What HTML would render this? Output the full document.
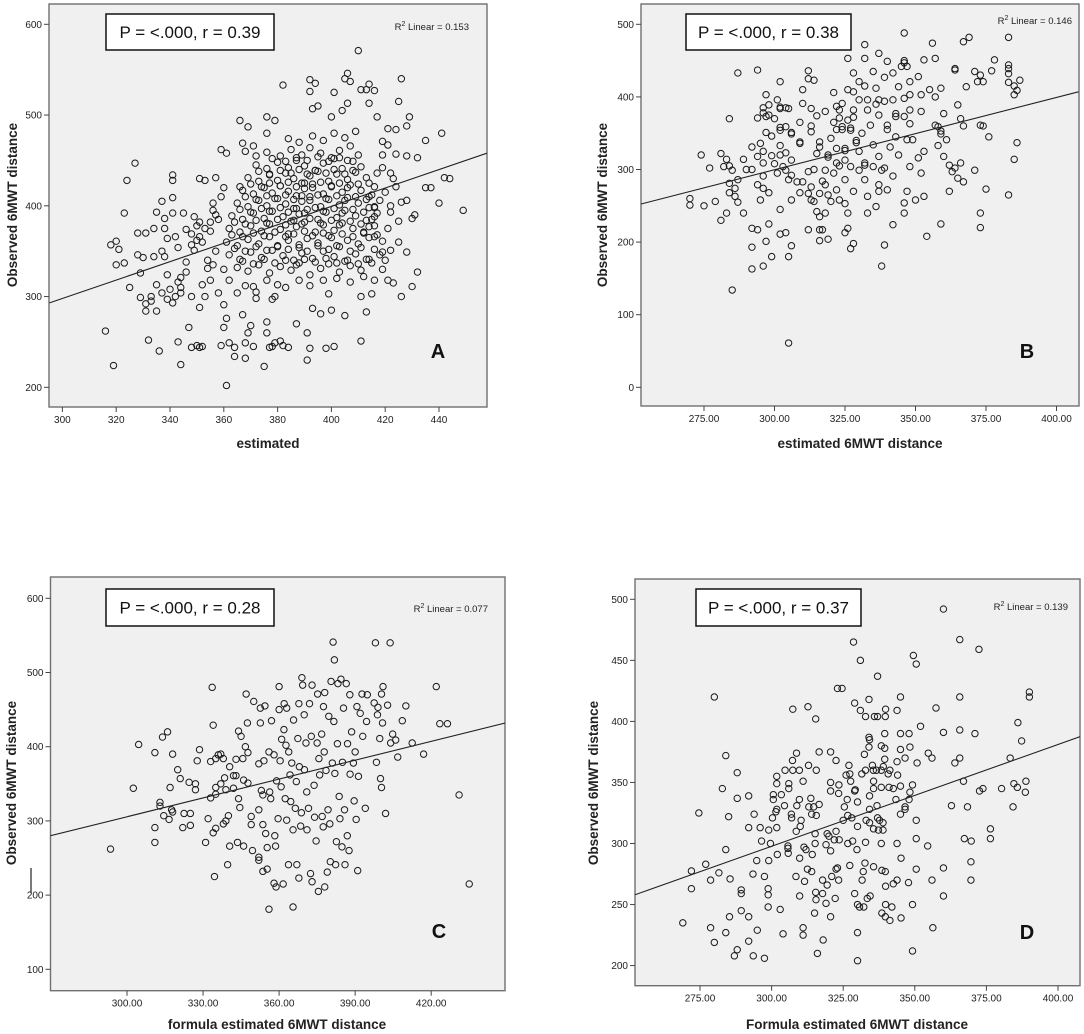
<!DOCTYPE html>
<html><head><meta charset="utf-8"><title>6MWT scatter plots</title>
<style>
html,body{margin:0;padding:0;background:#fff;}
svg{display:block;font-family:"Liberation Sans",Arial,sans-serif;}
</style></head>
<body>
<svg id="chart" width="1084" height="1034" viewBox="0 0 1084 1034" xmlns="http://www.w3.org/2000/svg"></svg>
<script>
// ---------- DATA ----------
const pointsA = [[316,262],[319,224],[327,447],[324,428],[323,392],[318,357],[320,361],[321,352],[320,335],[323,337],[325,310],[328,346],[330,343],[328,370],[331,370],[329,326],[329,299],[331,292],[331,284],[332,252],[333,295],[333,300],[335,284],[336,240],[335,313],[334,344],[334,375],[335,393],[337,405],[338,386],[338,375],[339,364],[337,350],[338,344],[337,304],[339,324],[339,297],[341,293],[342,300],[340,308],[341,434],[341,428],[341,409],[341,392],[342,366],[343,354],[343,250],[343,316],[344,321],[344,310],[344,225],[344,304],[346,338],[345,392],[346,374],[348,369],[346,327],[348,300],[347,266],[348,244],[350,246],[351,244],[352,245],[348,357],[349,351],[350,362],[351,366],[349,388],[350,378],[351,382],[353,375],[351,430],[353,428],[352,313],[353,300],[351,288],[354,331],[355,318],[356,335],[355,382],[356,403],[357,390],[357,431],[359,462],[360,420],[361,458],[358,304],[360,291],[360,266],[359,246],[361,276],[362,249],[361,202],[364,244],[364,234],[365,304],[366,421],[366,494],[367,469],[368,460],[367,280],[368,249],[369,260],[368,232],[370,268],[369,487],[371,466],[372,455],[371,311],[372,298],[371,245],[375,223],[376,260],[376,272],[377,244],[378,245],[379,249],[376,498],[376,480],[379,494],[378,297],[379,300],[380,313],[382,533],[392,539],[392,526],[394,535],[393,507],[395,510],[401,525],[406,546],[405,540],[407,537],[410,571],[411,528],[413,528],[414,534],[416,527],[414,513],[406,513],[404,505],[400,498],[417,498],[426,540],[425,515],[429,498],[428,488],[424,484],[421,485],[441,480],[435,472],[432,453],[428,455],[424,457],[442,431],[444,430],[435,420],[437,420],[440,403],[449,395],[431,390],[430,386],[428,406],[426,404],[425,383],[422,393],[425,360],[428,349],[422,351],[419,349],[419,330],[421,318],[423,315],[432,327],[430,311],[426,300],[415,303],[413,283],[411,300],[411,251],[405,279],[401,245],[398,243],[396,281],[400,285],[399,303],[393,287],[392,243],[391,230],[391,260],[387,270],[384,244],[382,246],[381,251],[419,456],[419,471],[421,467],[417,436],[422,436],[424,421],[416,421],[414,425],[414,410],[416,399],[416,388],[414,377],[416,366],
[365,332],[369,328],[373,335],[377,326],[381,333],[385,329],[388,337],[392,324],[396,331],[399,336],[403,327],[407,334],[411,329],[415,337],[362,346],[366,341],[370,349],[374,343],[378,351],[382,345],[386,340],[389,348],[393,342],[397,350],[401,344],[405,339],[409,347],[413,341],[418,346],[361,360],[365,356],[369,363],[373,358],[377,366],[380,355],[384,362],[388,357],[391,364],[395,359],[399,367],[402,356],[406,362],[410,358],[414,365],[419,361],[362,375],[366,371],[370,378],[374,372],[377,380],[381,374],[384,369],[387,377],[390,382],[394,371],[397,379],[401,373],[404,381],[408,375],[412,370],[416,378],[363,389],[367,385],[371,392],[375,386],[378,394],[382,388],[385,383],[388,391],[391,396],[395,385],[398,393],[402,387],[405,395],[409,389],[413,384],[417,392],[365,403],[369,399],[373,406],[376,400],[379,408],[383,402],[386,397],[389,405],[392,410],[396,399],[399,407],[403,401],[406,409],[410,403],[414,398],[418,406],[367,417],[371,413],[375,420],[378,414],[381,422],[384,416],[387,411],[390,419],[393,424],[397,413],[400,421],[404,415],[407,423],[411,417],[415,412],[369,431],[373,427],[377,434],[380,428],[383,436],[386,430],[389,425],[392,433],[395,438],[399,427],[402,435],[406,429],[409,437],[413,431],[372,445],[376,441],[380,448],[384,442],[387,450],[390,444],[394,439],[397,447],[401,452],[404,441],[408,449],[411,443],[376,459],[381,455],[385,462],[389,456],[392,464],[396,458],[400,453],[403,461],[407,466],[410,456],[384,474],[388,470],[393,477],[397,472],[401,480],[405,475],[409,482],[352,360],[355,372],[357,350],[358,385],[356,395],[359,410],[354,340],[360,330],[362,318],[368,312],[372,305],[376,318],[383,310],[388,318],[392,312],[397,318],[402,320],[407,316],[412,322],[416,318],[420,340],[421,375],[422,400],[420,415],[423,430],[419,442],
[367,339],[371,336],[375,341],[379,337],[383,340],[387,335],[390,341],[394,338],[398,342],[402,337],[406,340],[410,336],[414,341],
[364,353],[368,350],[372,355],[376,351],[380,356],[384,352],[388,354],[391,350],[395,356],[399,352],[403,355],[407,350],[411,354],[416,352],
[363,368],[367,366],[371,370],[375,367],[379,371],[383,366],[386,369],[390,372],[393,367],[397,370],[400,365],[404,369],[408,366],[412,371],[417,368],
[364,382],[368,380],[372,384],[376,381],[380,385],[383,379],[386,384],[389,380],[392,386],[396,381],[400,384],[403,379],[407,383],[411,380],[415,385],
[366,396],[370,393],[374,397],[377,394],[381,398],[384,393],[387,397],[390,392],[394,398],[397,394],[401,397],[404,392],[408,396],[412,393],[416,398],
[368,410],[372,407],[376,411],[380,408],[383,412],[386,407],[389,411],[392,406],[395,412],[398,408],[402,411],[405,406],[409,410],[413,407],
[370,424],[374,421],[377,425],[381,422],[384,426],[387,421],[390,425],[393,420],[396,426],[400,422],[403,425],[406,420],[410,424],
[373,438],[377,435],[381,439],[385,436],[388,440],[391,435],[394,439],[398,436],[401,440],[405,435],[408,439],
[378,452],[383,449],[387,453],[391,450],[395,454],[399,449],[403,453],[406,450]];
const trendA = [[295.2,293],[457.8,458]];

const pointsB = [[270,260],[270,251],[274,320],[277,302],[275,250],[279,256],[281,322],[281,230],[282,304],[283,314],[283,240],[284,370],[284,305],[285,299],[284,281],[284,268],[286,274],[286,263],[285,134],[287,433],[287,286],[287,255],[289,314],[289,240],[290,300],[292,331],[292,300],[292,219],[292,193],[292,163],[294,437],[294,371],[294,318],[294,279],[294,217],[295,258],[295,336],[296,378],[296,385],[296,325],[296,309],[296,291],[296,274],[296,167],[297,403],[297,373],[297,201],[297,351],[298,389],[298,375],[298,268],[298,225],[299,319],[299,180],[299,346],[300,308],[300,370],[301,295],[301,396],[302,421],[302,386],[302,384],[302,358],[302,354],[302,333],[302,320],[302,245],[302,211],[303,304],[304,299],[304,359],[304,213],[304,323],[304,385],[305,384],[305,286],[305,61],[305,180],[306,313],[306,258],[306,195],[306,351],[306,349],[306,292],[308,283],[309,365],[309,338],[309,336],[309,268],[310,410],[310,391],[310,283],[312,436],[312,425],[312,297],[312,217],[312,267],[313,352],[313,384],[313,360],[313,258],[313,276],[314,256],[314,300],[314,423],[315,322],[315,374],[315,242],[316,202],[316,217],[317,217],[316,338],[316,235],[316,267],[316,331],[317,284],[318,299],[318,380],[318,279],[318,240],[319,265],[319,204],[319,320],[319,317],[320,343],[320,256],[321,365],[321,295],[321,406],[322,387],[323,382],[322,355],[322,329],[322,309],[323,305],[322,272],[323,258],[323,371],[324,391],[324,359],[324,355],[325,329],[325,326],[325,286],[325,253],[325,313],[325,213],[326,453],[326,240],[326,219],[326,368],[326,410],[327,354],[327,357],[327,304],[327,191],[328,433],[328,407],[328,270],[328,372],[328,198],[328,382],[329,340],[329,337],[330,299],[330,396],[330,421],[330,325],[331,350],[332,453],[332,286],[332,309],[332,306],[332,472],[332,415],[333,382],[333,240],[333,263],[333,396],[334,361],[335,334],[335,435],[335,304],[336,412],[336,390],[337,396],[336,249],[337,460],[337,279],[337,270],[337,375],[337,318],[338,299],[339,302],[338,167],[339,394],[339,427],[339,196],[340,449],[340,355],[340,361],[340,272],[341,331],[342,291],[342,396],[342,224],[342,433],[343,377],[343,373],[343,345],[344,414],[344,320],[345,442],[346,450],[346,447],[346,398],[346,488],[346,254],[346,240],[346,373],[347,341],[347,442],[347,270],[348,421],[348,382],[348,403],[348,363],[348,304],[349,341],[350,258],[351,428],[351,316],[352,380],[352,295],[352,403],[353,451],[353,325],[353,263],[354,208],[355,410],[356,474],[357,361],[357,453],[357,400],[358,333],[358,359],[359,412],[359,353],[359,349],[359,225],[360,377],[360,318],[361,341],[362,306],[362,270],[363,297],[364,302],[364,439],[364,437],[365,389],[365,288],[366,370],[366,309],[367,476],[367,360],[367,283],[368,414],[369,482],[371,299],[371,435],[372,421],[373,430],[373,361],[374,360],[374,421],[373,240],[373,220],[375,273],[376,345],[377,436],[378,451],[383,482],[383,444],[383,439],[383,432],[383,420],[383,265],[385,314],[385,415],[385,403],[386,409],[386,337],[387,423]];
const trendB = [[252.7,252.5],[407.8,407]];

const pointsC = [[293.5,262],[302.5,344],[304.6,403],[311,271],[311,291],[311,392],[313,325],[313,320],[314,413],[316,420],[314.5,307],[316.6,302],[317,345],[317.6,315],[318,312],[318,390],[320,369],[321,357],[322,291],[322.5,310],[324.5,352],[325,294],[325,310],[327,350],[327,342],[327.7,381],[328.6,396],[331,271],[332,303],[333,331],[333,380],[333.6,480],[334,429],[334,284],[334.5,225],[335,336],[335,345],[335,384],[335,290],[336,389],[337,350],[337,390],[338,296],[338,384],[338.5,358],[339,300],[339,342],[339.7,241],[340,307],[340.5,373],[340.5,266],[342,344],[342,361],[343,361],[343,383],[343.6,271],[344,330],[344.5,318],[344,421],[345,414],[345.7,384],[346,266],[346,355],[346.7,400],[347,471],[347.5,432],[347.7,392],[347.7,351],[349,306],[349,295],[349.5,260],[350,461],[352,251],[352,247],[352,315],[352,377],[352.6,452],[352.6,432],[353,341],[353.6,335],[353.6,295],[353.6,232],[354,381],[354.4,455],[354.7,283],[355.3,264],[355.3,235],[356,181],[356,393],[356.3,339],[356.7,330],[357,435],[358,216],[358,389],[358.3,280],[358.6,266],[358.8,211],[359,354],[359.6,303],[360,450],[360,481],[360.4,381],[360.8,346],[361,410],[361.6,215],[361.9,423],[362,458],[362.4,330],[362.7,402],[363,301],[363,452],[363.7,241],[363.8,393],[364.3,362],[364.6,326],[365,378],[365.5,288],[365.5,184],[365.7,436],[366.4,317],[366.8,353],[367,241],[367.4,411],[367.8,223],[367.8,458],[368,373],[368.5,293],[368.8,311],[369,493],[369.3,483],[369.9,443],[370,369],[370.6,405],[370.9,339],[371,288],[371.6,317],[372,458],[372.4,229],[372.7,414],[373,218],[373,483],[373.8,348],[374,305],[374.6,273],[375,405],[375.2,471],[375.5,205],[375.7,384],[376,362],[376.8,417],[377,306],[377.4,292],[377.5,454],[377.8,393],[378,211],[378,473],[378.5,368],[379,231],[379.3,315],[379.6,441],[380,296],[380.2,245],[380.5,488],[381,378],[381.3,541],[381.6,434],[381.8,517],[382,364],[382.3,241],[382.6,272],[383,404],[383.2,485],[383.7,333],[384,303],[384.4,491],[384.8,265],[385,379],[385.4,452],[385.8,315],[386,241],[386.5,485],[386.9,280],[387,404],[387.6,260],[387.9,470],[388,363],[388.6,420],[389.3,378],[389.6,327],[390,393],[390.4,302],[390.7,454],[391,233],[391.3,360],[392,445],[392.7,471],[393,414],[394,317],[394.5,434],[394.8,470],[397.5,459],[398,540],[398.4,379],[398.8,443],[399,453],[399.7,411],[400,357],[400.4,345],[400.4,471],[401,481],[400.8,432],[402,310],[402.8,456],[403.8,540],[404,405],[404.8,417],[406,409],[406.8,386],[408.6,435],[410,455],[412.5,405],[417,390],[422,481],[423.4,431],[426.4,431],[431,335],[435,215]];
const trendC = [[269.8,280],[449.2,432]];

const pointsD = [[269,235],[272,277.5],[272,263],[274.6,325],[277,283],[278.7,270],[280,420],[278.7,231],[280,219],[281.6,276],[282.8,345],[284,372],[284,295],[284,227],[285,322],[285.5,271],[285.3,240],[287,208],[288,213],[288,337],[288,358],[289.4,262],[289.4,259],[289.4,245],[292,339],[292,313],[292,240],[292,220],[293.5,275],[293.6,208],[293.9,324],[294.8,286],[295,229],[296,313],[296.5,302],[297.5,206],[297.5,273],[298.8,263],[298.8,258],[298.8,248],[299,286],[299,311],[299.6,300],[300.3,321],[300.6,336],[300.6,340],[301.5,326],[301.8,328],[301.8,355],[301.8,349],[301.8,313],[302,291],[303,246],[303.4,340],[304,226],[304.5,331],[304.7,360],[305.7,298],[305.7,296],[305.8,292],[306,345],[306,349],[306.9,324],[307,321],[307.3,368],[307.4,410],[307.4,360],[308.5,273],[308.6,310],[308.7,374],[308.8,331],[309.7,360],[309.7,336],[309.8,288],[309.8,257],[310,314],[310.3,319],[311,351],[311.3,297],[311.5,269],[311,231],[311,225],[312,295],[312.5,279],[312.7,412],[312.9,364],[313,330],[313.7,337],[314,277],[314,324],[314.2,291],[314.7,330],[315,243],[315.2,300],[315.2,308],[315.4,260],[315.5,254],[315.6,323],[315.6,360],[315.4,402],[316,210],[316.6,332],[316.6,375],[317.8,270],[317.8,259],[318,221],[319,299],[319,251],[319.4,266],[319.4,308],[320,306],[320.6,375],[320.6,294],[320.6,350],[320.6,343],[320.6,240],[321,273],[321.9,303],[322.2,255],[322.5,279],[322.5,310],[323,427],[322.5,368],[323,280],[323.4,270],[323.4,341],[323.5,348],[323.6,303],[324.6,427],[325,319],[325.4,330],[326,356],[326.4,336],[326.6,300],[326.6,323],[327,364],[327.3,357],[327.3,282],[327.6,351],[328,321],[328.3,302],[328.6,465],[329,415],[329,343],[329.2,344],[329,259],[329.8,295],[330,227],[330,204],[330,334],[330,314],[330,250],[330.7,248],[331,450],[331,409],[331.5,357],[331.6,270],[332,277],[332.2,248],[332.4,373],[332.6,284],[332.8,301],[332.8,404],[332.8,360],[333,319],[333.4,255],[334,418],[334,387],[334.2,385],[334,379],[334.2,339],[334.2,317],[334.2,328],[334.4,257],[335.2,364],[335.5,360],[335.6,351],[335.6,345],[335.6,312],[335.6,281],[335.9,404],[336.6,360],[336.8,331],[337,321],[337,437],[337,404],[337.3,311],[337.7,319],[338.3,360],[338.3,346],[338.3,380],[338.3,300],[338.5,278],[338.5,243],[338.9,317],[338.9,311],[339,363],[339.5,378],[339.5,390],[339.5,369],[339.7,277],[339.7,240],[339.7,404],[339.8,410],[339.8,265],[339.8,250],[340.7,357],[341,346],[341.3,360],[341.3,237],[342,248],[342.5,345],[342.5,267],[343.4,336],[343.8,409],[343.8,300],[343.8,270],[343.8,367],[344,356],[345,420],[345,390],[345,377],[345,324],[345,347],[345.2,288],[345.2,239],[346.6,370],[346.6,330],[346.6,328],[347.8,268],[348,390],[348.3,379],[348,336],[348.3,342],[349.2,348],[349.5,454],[350.5,447],[349.2,250],[349.2,212],[350.5,319],[350.5,304],[350.5,279],[350.8,366],[352,396],[354.7,374],[354.5,298],[356,370],[356,270],[356.3,231],[357.4,411],[360,492],[360,391],[360,280],[360,257],[362.8,331],[364,366],[365.7,467],[365.7,420],[365.7,393],[365.7,370],[367,351],[367.3,304],[368.4,330],[369.6,285],[369.6,270],[369.7,302],[371,390],[372.4,459],[372.6,343],[373.8,345],[376.4,312],[376.4,304],[380.3,345],[383.3,370],[384.3,330],[384.6,349],[385.8,346],[386,399],[387.3,384],[388.6,342],[388.8,351],[390,424],[390,420]];
const trendD = [[252.3,258],[407.7,387.5]];

const xTicksA = [300,320,340,360,380,400,420,440];
const yTicksA = [200,300,400,500,600];
const xTicksB = [275,300,325,350,375,400];
const yTicksB = [0,100,200,300,400,500];
const xTicksC = [300,330,360,390,420];
const yTicksC = [100,200,300,400,500,600];
const xTicksD = [275,300,325,350,375,400];
const yTicksD = [200,250,300,350,400,450,500];

// ---------- LAYOUT ----------
const NS = "http://www.w3.org/2000/svg";
const svg = document.getElementById('chart');
function mk(tag, attrs, parent){
  const e = document.createElementNS(NS, tag);
  for (const k in attrs) e.setAttribute(k, attrs[k]);
  (parent||svg).appendChild(e);
  return e;
}

const panels = [
  {id:'a', letter:'A', pts:pointsA, trend:trendA, xt:xTicksA, yt:yTicksA, dec:0,
   L:49, R:487, T:4, B:407, x0:300, px0:62.4, kx:2.69, y0:600, py0:24.3, ky:0.9075,
   box:[106,14,168,36], stat:'P = <.000, r = 0.39', r2x:469, r2y:30, r2:'0.153', letX:438, letY:358,
   xTitle:'estimated', xTitleX:268, xTitleY:448, yTitleX:17, yTitleY:205},
  {id:'b', letter:'B', pts:pointsB, trend:trendB, xt:xTicksB, yt:yTicksB, dec:2,
   L:641, R:1079, T:4, B:406, x0:275, px0:704, kx:2.82, y0:0, py0:387.3, ky:0.726,
   box:[686,14,165,36], stat:'P = <.000, r = 0.38', r2x:1072, r2y:24, r2:'0.146', letX:1027, letY:358,
   xTitle:'estimated 6MWT distance', xTitleX:860, xTitleY:448, yTitleX:607, yTitleY:205},
  {id:'c', letter:'C', pts:pointsC, trend:trendC, xt:xTicksC, yt:yTicksC, dec:2,
   L:50.5, R:505, T:577, B:990.7, x0:300, px0:127, kx:2.535, y0:600, py0:598.3, ky:0.742,
   box:[106,589,168,37], stat:'P = <.000, r = 0.28', r2x:488, r2y:612, r2:'0.077', letX:439, letY:938,
   xTitle:'formula estimated 6MWT distance', xTitleX:277, xTitleY:1029, yTitleX:16, yTitleY:783},
  {id:'d', letter:'D', pts:pointsD, trend:trendD, xt:xTicksD, yt:yTicksD, dec:2,
   L:635, R:1080, T:579, B:985.7, x0:275, px0:700, kx:2.864, y0:500, py0:599.3, ky:1.221,
   box:[696,589,165,37], stat:'P = <.000, r = 0.37', r2x:1068, r2y:610, r2:'0.139', letX:1027, letY:939,
   xTitle:'Formula estimated 6MWT distance', xTitleX:857, xTitleY:1029, yTitleX:598, yTitleY:783}
];

panels.forEach(p => {
  const sx = v => p.px0 + (v - p.x0) * p.kx;
  const sy = v => p.py0 - (v - p.y0) * p.ky;
  const g = mk('g', {});
  
  

  const bg = mk('rect', {x:p.L, y:p.T, width:p.R-p.L, height:p.B-p.T, fill:'#f0f0f0', stroke:'#707070', 'stroke-width':1.4}, g);
  
  

  p.yt.forEach(v => {
    const y = sy(v);
    const t = mk('line', {x1:p.L-5, x2:p.L, y1:y, y2:y, stroke:'#444', 'stroke-width':1}, g);
    
    
    const lb = mk('text', {x:p.L-7, y:y+3.5, 'text-anchor':'end', 'font-size':10, fill:'#222'}, g);
    lb.textContent = v;
    
    
  });
  p.xt.forEach(v => {
    const x = sx(v);
    const t = mk('line', {x1:x, x2:x, y1:p.B, y2:p.B+5, stroke:'#444', 'stroke-width':1}, g);
    
    
    const lb = mk('text', {x:x, y:p.B+16, 'text-anchor':'middle', 'font-size':10, fill:'#222'}, g);
    lb.textContent = v.toFixed(p.dec);
    
    
  });

  const cp = mk('clipPath', {id:'clip-' + p.id}, g);
  mk('rect', {x:p.L, y:p.T, width:p.R-p.L, height:p.B-p.T}, cp);

  const pg = mk('g', {'clip-path':'url(#clip-' + p.id + ')'}, g);
  
  
  p.pts.forEach(d => {
    const c = mk('circle', {cx:sx(d[0]), cy:sy(d[1]), r:3.2, fill:'none', stroke:'#1a1a1a', 'stroke-width':1}, pg);
    
    
  });

  const tl = mk('line', {x1:sx(p.trend[0][0]), y1:sy(p.trend[0][1]), x2:sx(p.trend[1][0]), y2:sy(p.trend[1][1]), stroke:'#222', 'stroke-width':1.1, 'clip-path':'url(#clip-' + p.id + ')'}, g);
  
  

  const bx = mk('rect', {x:p.box[0], y:p.box[1], width:p.box[2], height:p.box[3], fill:'#fff', stroke:'#111', 'stroke-width':1.5}, g);
  
  
  const st = mk('text', {x:p.box[0]+p.box[2]/2, y:p.box[1]+p.box[3]/2+6, 'text-anchor':'middle', 'font-size':17, fill:'#111'}, g);
  st.textContent = p.stat;
  
  

  const r2 = mk('text', {x:p.r2x, y:p.r2y, 'text-anchor':'end', 'font-size':9.5, fill:'#222'}, g);
  
  
  const t1 = mk('tspan', {}, r2); t1.textContent = 'R';
  const t2 = mk('tspan', {dy:-4, 'font-size':7}, r2); t2.textContent = '2';
  const t3 = mk('tspan', {dy:4}, r2); t3.textContent = ' Linear = ' + p.r2;

  const lt = mk('text', {x:p.letX, y:p.letY, 'text-anchor':'middle', 'font-size':20, 'font-weight':'bold', fill:'#111'}, g);
  lt.textContent = p.letter;
  
  

  const xt = mk('text', {x:p.xTitleX, y:p.xTitleY, 'text-anchor':'middle', 'font-size':13.5, 'font-weight':'bold', fill:'#222'}, g);
  xt.textContent = p.xTitle;
  
  
  const yt = mk('text', {x:0, y:0, 'text-anchor':'middle', 'font-size':13.5, 'font-weight':'bold', fill:'#222', transform:'translate(' + p.yTitleX + ',' + p.yTitleY + ') rotate(-90)'}, g);
  yt.textContent = 'Observed 6MWT distance';
  
  
});

const stray = mk('line', {x1:31, x2:31, y1:868, y2:893, stroke:'#222', 'stroke-width':1.2});


</script>
</body></html>
